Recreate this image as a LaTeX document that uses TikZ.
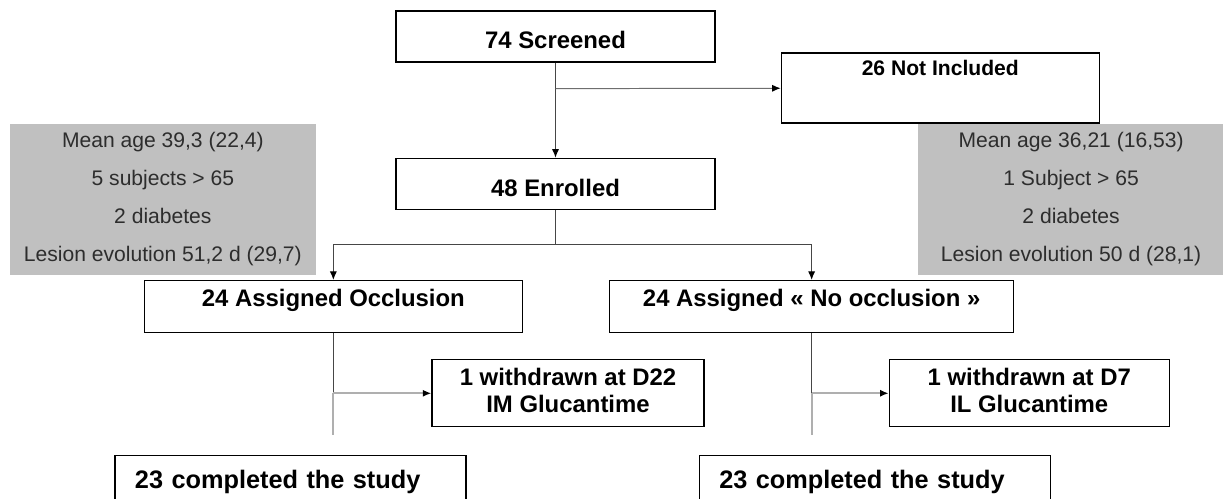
\documentclass[tikz,border=0pt]{standalone}
\usepackage{fontspec}
\setmainfont{Liberation Sans}
\usepackage{xcolor}
\usepackage{tikz}
\usetikzlibrary{arrows.meta, positioning}
\definecolor{infogray}{RGB}{192, 192, 192}
\definecolor{infotext}{RGB}{45, 45, 45}
\definecolor{linedark}{RGB}{70, 70, 70}
\definecolor{linemid}{RGB}{110, 110, 110}
\definecolor{linelight}{RGB}{175, 175, 175}
\tikzset{
    stage/.style={rectangle, draw=black, line width=0.9pt, fill=white,
                  inner sep=0pt, minimum width=7.975cm,
                  font=\fontsize{17}{20}\selectfont\bfseries,
                  text height=0.95cm, text depth=0.325cm},
    outbox/.style={rectangle, draw=black, line width=0.9pt, fill=white,
                   inner sep=0pt, minimum width=7.95cm,
                   font=\fontsize{15}{18}\selectfont\bfseries,
                   text height=0.575cm, text depth=1.175cm},
    arm/.style={rectangle, draw=black, line width=0.9pt, fill=white,
                inner sep=0pt, minimum width=#1,
                font=\fontsize{17}{20}\selectfont\bfseries,
                text height=0.6375cm, text depth=0.6625cm},
    drop/.style={rectangle, draw=black, line width=0.9pt, fill=white,
                 inner sep=0pt, minimum width=#1,
                 align=center, font=\fontsize{17}{19.2}\selectfont\bfseries,
                 text height=1.325cm, text depth=0.35cm},
    done/.style={rectangle, draw=black, line width=0.9pt, fill=white,
                 inner xsep=0.5cm, inner ysep=0pt, text width=7.775cm,
                 align=left, font=\fontsize{18}{22}\selectfont\bfseries,
                 text height=0.825cm, text depth=0.325cm},
    info/.style={rectangle, fill=infogray, draw=none, inner sep=0pt,
                 minimum width=7.66cm, minimum height=3.775cm,
                 align=center, text=infotext,
                 font=\fontsize{15}{27}\selectfont},
    lnk/.style={draw=linedark, line width=0.7pt},
    lnklt/.style={draw=linelight, line width=1.3pt},
    arr/.style={lnk, -{Latex[length=6pt, width=5pt, color=black]}},
    arrlt/.style={lnklt, -{Latex[length=6pt, width=5pt, color=black]}},
}
\begin{document}
\begin{tikzpicture}
    \useasboundingbox (-13.8875,-11.5625) rectangle (16.6875,0.9125);

    \node[stage] (screened) at (0,0) {74 Screened};
    \node[stage, below=2.375cm of screened] (enrolled) {48 Enrolled};
    \node[outbox, below right=1.05cm and 1.625cm of screened.north east] (notinc) {26 Not Included};
    \coordinate[below=0.65cm of screened] (fork);
    \coordinate[below=0.875cm of enrolled] (split);

    % Baseline data
    \node[info, anchor=north east] (statl) at ([xshift=-1.975cm, yshift=0.85cm]enrolled.north west)
        {Mean age 39,3 (22,4)\\5 subjects > 65\\2 diabetes\\Lesion evolution 51,2 d (29,7)};
    \node[info, below right=0cm and 3.425cm of notinc.south west] (statr)
        {Mean age 36,21 (16,53)\\1 Subject > 65\\2 diabetes\\Lesion evolution 50 d (28,1)};

    % Arms
    \node[arm=9.45cm, below left=0.875cm and 0.8125cm of split] (occ) {24 Assigned Occlusion};
    \node[arm=10.1cm, below right=0.875cm and 1.3375cm of split] (noocc) {24 Assigned « No occlusion »};
    \node[drop=6.8cm, below right=0.65cm and 2.45cm of occ.south] (wdocc) {1 withdrawn at D22\\IM Glucantime};
    \node[drop=7cm, below right=0.65cm and 1.925cm of noocc.south] (wdnoocc) {1 withdrawn at D7\\IL Glucantime};
    \coordinate (offocc) at (occ.south |- wdocc.west);
    \coordinate (offnoocc) at (noocc.south |- wdnoocc.west);
    \coordinate[below=2.55cm of occ.south] (endocc);
    \coordinate[below=2.55cm of noocc.south] (endnoocc);

    % Completed
    \node[done, anchor=north west] (doneocc) at ([xshift=-5.475cm, yshift=-0.5cm]endocc) {23 completed the study};
    \node[done, anchor=north west] (donenoocc) at ([xshift=-2.825cm, yshift=-0.5cm]endnoocc) {23 completed the study};

    % Main flow
    \draw[arr] (screened) -- (enrolled);
    \draw[arr, draw=linemid] (fork) -- (notinc);
    \draw[lnk] (enrolled) -- (split);
    \draw[arr] (split) -| (occ);
    \draw[arr] (split) -| (noocc);

    % Withdrawals
    \draw[lnk] (occ) -- (offocc);
    \draw[lnklt] (offocc) -- (endocc);
    \draw[arrlt] (offocc) -- (wdocc);
    \draw[lnk] (noocc) -- (offnoocc);
    \draw[lnklt] (offnoocc) -- (endnoocc);
    \draw[arrlt] (offnoocc) -- (wdnoocc);
\end{tikzpicture}
\end{document}
